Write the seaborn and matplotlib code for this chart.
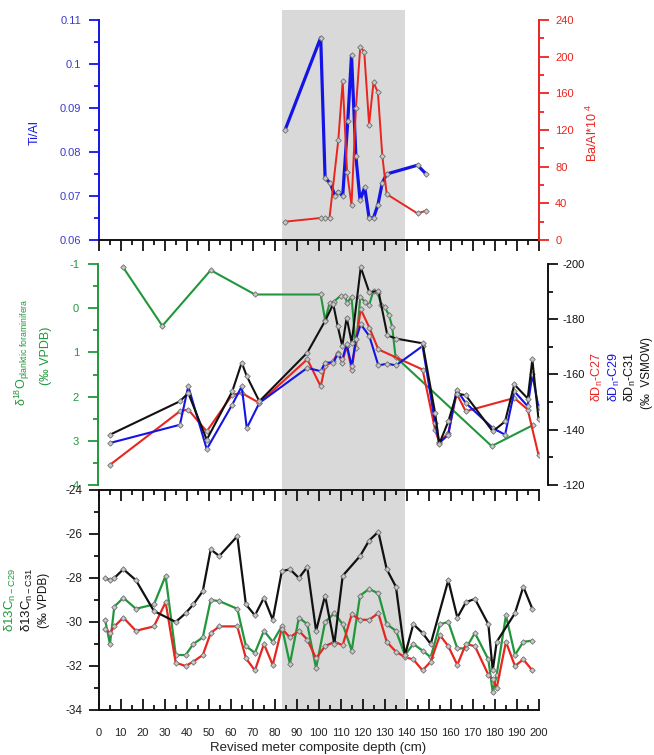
import numpy as np
import matplotlib
matplotlib.use("Agg")
import matplotlib.pyplot as plt
from matplotlib.ticker import MultipleLocator, FuncFormatter
import seaborn as sns

sns.set_style("white")
plt.rcParams['font.family'] = ['Liberation Sans', 'DejaVu Sans']
plt.rcParams['axes.unicode_minus'] = False
plt.rcParams['mathtext.fontset'] = 'custom'
plt.rcParams['mathtext.rm'] = 'Liberation Sans'

# ---------------- data ----------------
ti_depth = [84.8, 101, 103, 105.3, 107.5, 109, 111, 113.3, 115, 117, 118.9, 121, 123, 125, 127, 129, 131, 145, 148.9]
ti_al = [0.085, 0.106, 0.074, 0.073, 0.070, 0.071, 0.070, 0.087, 0.102, 0.079, 0.069, 0.072, 0.065, 0.065, 0.068, 0.073, 0.075, 0.077, 0.075]

ba_depth = [84.8, 101, 103, 105, 109, 111, 113, 115, 117, 119, 120.8, 123, 125, 127, 129, 131, 145, 148.9]
ba_al = [20, 24, 24, 24, 109, 173, 74, 38, 144, 211, 205, 126, 172, 161, 92, 50, 29, 32]

o18_depth = [11, 29, 51, 71.1, 101, 103, 105, 107, 110, 112, 113, 115, 117, 119, 121, 123, 125, 127, 128.5, 130, 132, 133.5, 135, 178.7, 197.7]
o18 = [-0.94, 0.40, -0.86, -0.31, -0.31, 0.27, -0.11, -0.15, -0.28, -0.28, -0.12, -0.26, 0.91, -0.26, -0.15, -0.07, -0.40, -0.34, -0.07, -0.03, 0.15, 0.42, 1.10, 3.12, 2.64]

dd27_depth = [5.2, 37, 40.8, 49.2, 60.8, 65.1, 73.1, 94.9, 101, 103, 106.7, 108.7, 110.8, 112.8, 115.1, 119.2, 123.1, 127.2, 147.3, 153, 154.9, 159, 162.8, 166.9, 189, 195.1, 200]
dd27 = [-127.3, -146.7, -147.3, -139.4, -152.7, -153.3, -149.7, -165.5, -155.7, -163, -164.8, -167.9, -164.3, -170.3, -161.8, -183.6, -177.0, -169.1, -161.8, -140, -135.4, -138.8, -153.1, -146.7, -151.5, -147.3, -130.9]

dd29_depth = [5.2, 37, 40.8, 49.2, 60.8, 65.1, 67.4, 73.1, 94.9, 101, 103, 106.7, 108.7, 110.8, 112.8, 115.1, 117, 119.2, 123.1, 127.2, 131.3, 135.2, 147.3, 153, 154.9, 159, 162.8, 166.9, 179.2, 184.8, 189, 195.1, 197.2, 200]
dd29 = [-135.2, -141.8, -155.7, -133.0, -149.1, -155.7, -140.6, -149.7, -162.4, -161.2, -164.3, -164.3, -167.3, -165.5, -170.9, -163, -172.7, -178.2, -173.9, -163.3, -163.9, -163.3, -170.3, -142.4, -135.2, -138.2, -154.5, -149.7, -140.6, -138.2, -153.9, -148.5, -160, -148.2]

dd31_depth = [5.2, 37, 40.8, 49.2, 60.8, 65.1, 67.4, 73.1, 94.9, 103, 106.7, 108.7, 110.8, 112.8, 115.1, 119.2, 123.1, 127.2, 131.3, 135.2, 147.3, 153, 154.9, 159, 162.8, 166.9, 179.2, 184.8, 189, 195.1, 197.2, 200]
dd31 = [-138.2, -150.3, -153.3, -136.4, -153.9, -164.3, -159.4, -150.3, -167.9, -179.4, -185.5, -177.6, -170.3, -180.6, -171.5, -198.8, -189.7, -190.3, -174.2, -173.0, -171.3, -146.1, -134.9, -143.0, -153.1, -152.5, -139.4, -143.0, -156.4, -151.3, -165.5, -143.9]

c31_depth = [3, 5.2, 7.2, 11.3, 17, 25.2, 35.1, 39.6, 43.1, 47.4, 51, 54.9, 63.1, 67, 71.1, 75.2, 79.2, 83.3, 87, 91.1, 94.9, 98.9, 103, 107.2, 111, 118.9, 123, 127.2, 131, 135.2, 139.3, 143.1, 147.3, 151, 159, 163.1, 167, 171.1, 177.2, 179.2, 181, 189.3, 193.1, 197.2]
c31 = [-28.0, -28.1, -28.0, -27.6, -28.1, -29.5, -30.0, -29.6, -29.2, -28.6, -26.7, -27.0, -26.1, -29.2, -29.7, -28.9, -29.9, -27.7, -27.6, -28.0, -27.5, -30.4, -28.8, -31.0, -27.9, -27.0, -26.3, -25.9, -27.6, -28.4, -31.5, -30.1, -30.5, -31.0, -28.1, -29.8, -29.1, -28.95, -30.1, -32.2, -30.9, -29.6, -28.4, -29.4]

c29_depth = [3, 5.2, 7.2, 11.3, 17, 25.2, 30.5, 35.1, 39.6, 43.1, 47.4, 51, 54.9, 63.1, 67, 71.1, 75.2, 79.2, 83.3, 87, 91.1, 94.9, 98.9, 103, 107.2, 111, 115.1, 118.9, 123, 127.2, 131, 135.2, 139.3, 143.1, 147.3, 151, 155.2, 159, 163.1, 167, 171.1, 177.2, 179.2, 181, 185.2, 189.3, 193.1, 197.2]
c29 = [-29.9, -31.0, -29.3, -28.9, -29.4, -29.2, -27.9, -31.5, -31.5, -31.0, -30.7, -29.0, -29.05, -29.4, -31.1, -31.4, -30.4, -30.9, -30.2, -31.9, -29.8, -30.1, -32.1, -30.0, -29.6, -30.1, -31.3, -28.8, -28.5, -28.7, -30.1, -30.4, -31.5, -31.0, -31.3, -31.6, -30.1, -30.0, -31.2, -31.2, -30.5, -31.7, -33.2, -32.4, -29.7, -31.5, -30.9, -30.85]

c27_depth = c29_depth
c27 = [-30.3, -30.5, -30.2, -29.8, -30.4, -30.2, -29.1, -31.85, -32.0, -31.8, -31.5, -30.5, -30.2, -30.2, -31.65, -32.2, -31.0, -31.95, -30.3, -30.7, -30.4, -30.8, -31.65, -31.1, -30.9, -31.05, -29.65, -29.9, -29.9, -29.6, -30.9, -31.35, -31.6, -31.7, -32.2, -31.8, -30.6, -31.1, -31.95, -31.0, -31.1, -32.4, -32.6, -33.0, -30.9, -32.0, -31.7, -32.2]

shade = (83.5, 139.3)

BLUE = '#1414e6'
RED = '#e8251f'
GREEN = '#21973c'
BLACK = '#111111'

# ---------------- layout ----------------
W, H = 654, 755
fig = plt.figure(figsize=(W / 100, H / 100), dpi=100)
fig.patch.set_facecolor('white')


def rect(x0, y0, x1, y1):
    return [x0 / W, 1 - y1 / H, (x1 - x0) / W, (y1 - y0) / H]


XL, XR = 98.5, 538.5

bg = fig.add_axes(rect(XL, 10, XR, 710))
bg.set_xlim(0, 200)
bg.axvspan(*shade, color='#d9d9d9', lw=0)
bg.axis('off')


def series(ax, x, y, color, lw):
    sns.lineplot(x=x, y=y, ax=ax, color=color, lw=lw, marker='D', markersize=2.8,
                 markerfacecolor='#c8c8c8', markeredgecolor='#707070', markeredgewidth=0.6,
                 estimator=None, sort=False)


SPW = 1.4
# ---- top panel ----
ax_t = fig.add_axes(rect(XL, 20, XR, 240))
ax_t.patch.set_alpha(0)
series(ax_t, ti_depth, ti_al, BLUE, 2.3)
ax_t.set_xlim(0, 200)
ax_t.set_ylim(0.06, 0.11)
for s in ['top', 'right']:
    ax_t.spines[s].set_visible(False)
ax_t.spines['left'].set_color(BLUE)
ax_t.spines['left'].set_linewidth(SPW)
ax_t.spines['bottom'].set_color(BLACK)
ax_t.spines['bottom'].set_linewidth(SPW)
ax_t.xaxis.set_major_locator(MultipleLocator(10))
ax_t.xaxis.set_minor_locator(MultipleLocator(5))
ax_t.tick_params(axis='x', which='major', direction='out', length=8, width=1.3, labelbottom=False, bottom=True, color=BLACK)
ax_t.tick_params(axis='x', which='minor', direction='out', length=3.8, width=1.3, bottom=True, color=BLACK)
ax_t.yaxis.set_major_locator(MultipleLocator(0.01))
ax_t.yaxis.set_minor_locator(MultipleLocator(0.005))
ax_t.yaxis.set_major_formatter(FuncFormatter(lambda v, p: '%g' % round(v, 3)))
ax_t.tick_params(axis='y', which='major', direction='out', length=7.5, width=1.3, color=BLUE,
                 labelcolor='#3b3bcc', labelsize=8, pad=5, left=True)
ax_t.tick_params(axis='y', which='minor', direction='out', length=3.8, width=1.3, color=BLUE, left=True)
ax_t.set_xlabel('')
ax_t.set_ylabel('')

ax_b = ax_t.twinx()
ax_b.patch.set_alpha(0)
series(ax_b, ba_depth, ba_al, RED, 1.4)
ax_b.set_xlim(0, 200)
ax_b.set_ylim(0, 240)
for s in ['top', 'left', 'bottom']:
    ax_b.spines[s].set_visible(False)
ax_b.spines['right'].set_color(RED)
ax_b.spines['right'].set_linewidth(SPW)
ax_b.yaxis.set_major_locator(MultipleLocator(40))
ax_b.yaxis.set_minor_locator(MultipleLocator(20))
ax_b.tick_params(axis='y', which='major', direction='out', length=7, width=1.3, color=RED,
                 labelcolor=RED, labelsize=8, pad=5, right=True)
ax_b.tick_params(axis='y', which='minor', direction='out', length=3.8, width=1.3, color=RED, right=True)
ax_b.set_ylabel('')

fig.text(35 / W, 1 - 133 / H, 'Ti/Al', rotation=90, color=BLUE, fontsize=9, ha='center', va='center')
fig.text(592 / W, 1 - 133 / H, r'Ba/Al*10$^{\ 4}$', rotation=90, color=RED, fontsize=9, ha='center', va='center')

# ---- middle panel ----
ax_m = fig.add_axes(rect(XL, 264, XR, 485))
ax_m.patch.set_alpha(0)
series(ax_m, o18_depth, o18, GREEN, 1.5)
ax_m.set_xlim(0, 200)
ax_m.set_ylim(4, -1)
for s in ['top', 'right', 'bottom']:
    ax_m.spines[s].set_visible(False)
ax_m.spines['left'].set_color(GREEN)
ax_m.spines['left'].set_linewidth(SPW)
ax_m.spines['left'].set_position(('outward', 0.5))
ax_m.tick_params(axis='x', bottom=False, labelbottom=False)
ax_m.yaxis.set_major_locator(MultipleLocator(1))
ax_m.yaxis.set_minor_locator(MultipleLocator(0.5))
ax_m.tick_params(axis='y', which='major', direction='out', length=7.5, width=1.3, color=GREEN,
                 labelcolor=GREEN, labelsize=8, pad=6, left=True)
ax_m.tick_params(axis='y', which='minor', direction='out', length=3.8, width=1.3, color=GREEN, left=True)
ax_m.set_ylabel('')

ax_d = ax_m.twinx()
ax_d.patch.set_alpha(0)
series(ax_d, dd27_depth, dd27, RED, 1.5)
series(ax_d, dd29_depth, dd29, BLUE, 1.5)
series(ax_d, dd31_depth, dd31, BLACK, 1.5)
ax_d.set_xlim(0, 200)
ax_d.set_ylim(-120, -200)
for s in ['top', 'left', 'bottom']:
    ax_d.spines[s].set_visible(False)
ax_d.spines['right'].set_position(('outward', 6.5))
ax_d.spines['right'].set_color(BLACK)
ax_d.spines['right'].set_linewidth(SPW)
ax_d.yaxis.set_major_locator(MultipleLocator(20))
ax_d.yaxis.set_minor_locator(MultipleLocator(10))
ax_d.tick_params(axis='y', which='major', direction='out', length=7, width=1.3, color=BLACK,
                 labelcolor=BLACK, labelsize=8, pad=4, right=True)
ax_d.tick_params(axis='y', which='minor', direction='out', length=3.8, width=1.3, color=BLACK, right=True)
ax_d.set_ylabel('')

fig.text(22 / W, 1 - 352 / H, r'δ$^{18}$O$_{\mathrm{planktic\ foraminifera}}$', rotation=90,
         color=GREEN, fontsize=9, ha='center', va='center')
fig.text(46 / W, 1 - 356 / H, '(‰ VPDB)', rotation=90, color=GREEN, fontsize=9, ha='center', va='center')
fig.text(597 / W, 1 - 377 / H, r'δD$_{\mathrm{n}}$-C27', rotation=90, color=RED, fontsize=9, ha='center', va='center')
fig.text(614 / W, 1 - 377 / H, r'δD$_{\mathrm{n}}$-C29', rotation=90, color=BLUE, fontsize=9, ha='center', va='center')
fig.text(630 / W, 1 - 377 / H, r'δD$_{\mathrm{n}}$-C31', rotation=90, color=BLACK, fontsize=9, ha='center', va='center')
fig.text(647 / W, 1 - 373 / H, '(‰  VSMOW)', rotation=90, color=BLACK, fontsize=8.5, ha='center', va='center')

# ---- bottom panel ----
ax_c = fig.add_axes(rect(XL, 490, XR, 710))
ax_c.patch.set_alpha(0)
series(ax_c, c29_depth, c29, GREEN, 1.6)
series(ax_c, c27_depth, c27, RED, 1.6)
series(ax_c, c31_depth, c31, BLACK, 1.6)
ax_c.set_xlim(0, 200)
ax_c.set_ylim(-34, -24)
ax_c.spines['right'].set_visible(False)
for s in ['left', 'top', 'bottom']:
    ax_c.spines[s].set_color(BLACK)
    ax_c.spines[s].set_linewidth(SPW)
ax_c.xaxis.set_major_locator(MultipleLocator(10))
ax_c.xaxis.set_minor_locator(MultipleLocator(5))
ax_c.tick_params(axis='x', which='major', direction='in', length=8, width=1.3, top=True, bottom=True,
                 labelsize=8, pad=13, color=BLACK, labelcolor='#222222')
ax_c.tick_params(axis='x', which='minor', direction='in', length=3.8, width=1.3, top=True, bottom=True, color=BLACK)
ax_c.yaxis.set_major_locator(MultipleLocator(2))
ax_c.yaxis.set_minor_locator(MultipleLocator(1))
ax_c.tick_params(axis='y', which='major', direction='out', length=7.5, width=1.3, color=BLACK,
                 labelsize=8.5, pad=4, left=True, labelcolor='#222222')
ax_c.tick_params(axis='y', which='minor', direction='out', length=3.8, width=1.3, color=BLACK, left=True)
ax_c.set_ylabel('')
ax_c.set_xlabel('')

fig.text(10 / W, 1 - 600 / H, r'δ13C$_{\mathrm{n-C29}}$', rotation=90, color=GREEN, fontsize=9.5, ha='center', va='center')
fig.text(27 / W, 1 - 600 / H, r'δ13C$_{\mathrm{n-C31}}$', rotation=90, color=BLACK, fontsize=9.5, ha='center', va='center')
fig.text(44 / W, 1 - 600 / H, '(‰ VPDB)', rotation=90, color=BLACK, fontsize=8.5, ha='center', va='center')

fig.text(318 / W, 1 - 748 / H, 'Revised meter composite depth (cm)', color='#222222', fontsize=9.5,
         ha='center', va='center')

fig.savefig('out.png', dpi=100)
